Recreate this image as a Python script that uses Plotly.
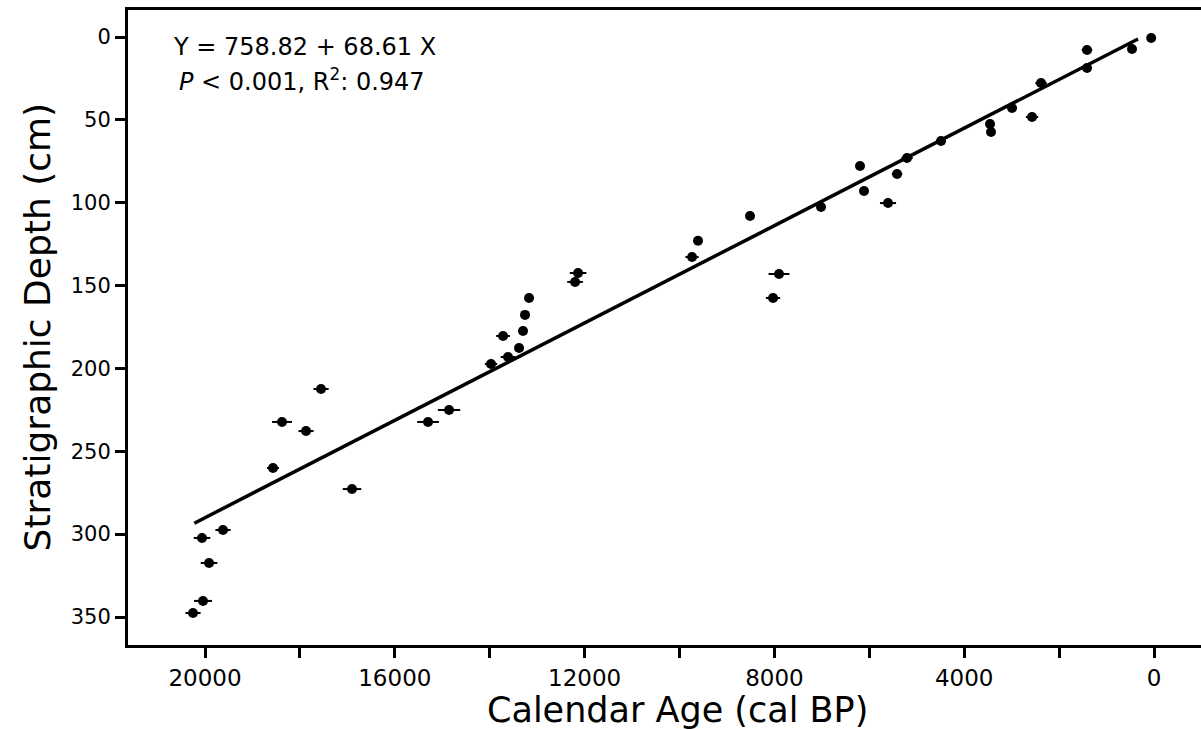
import plotly.graph_objects as go

# Calendar age (cal BP), stratigraphic depth (cm), age error (yr)
age = [60, 464, 1412, 1412, 2381, 2992, 2571, 3456, 3435, 4489,
       5205, 5415, 6196, 6112, 5606, 7018, 8514, 9610, 9736, 7903,
       8029, 12138, 12201, 13171, 13256, 13298, 13719, 13382, 13614, 13972,
       17555, 18377, 17871, 18567, 15300, 14857, 16902, 19621, 20063, 19915,
       20042, 20253]
depth = [0.6, 7.2, 7.8, 18.7, 27.8, 42.8, 48.3, 52.5, 57.3, 62.8,
         73.0, 82.7, 77.8, 92.9, 100.2, 102.6, 108.0, 123.0, 132.8, 143.0,
         157.5, 142.4, 147.8, 157.5, 167.7, 177.4, 180.4, 187.7, 193.1, 197.3,
         212.4, 232.3, 237.8, 260.1, 232.3, 225.1, 272.8, 297.5, 302.3, 317.4,
         340.3, 347.6]
age_err = [60, 60, 110, 60, 120, 60, 130, 60, 60, 100,
           120, 110, 60, 60, 170, 60, 60, 60, 140, 220,
           150, 175, 165, 60, 60, 60, 145, 80, 155, 130,
           160, 210, 160, 125, 230, 235, 195, 160, 175, 175,
           190, 160]

# Regression line end points
fit_age = [20225, 337]
fit_depth = [293.4, 1.2]

x_ticks = [20000, 16000, 12000, 8000, 4000, 0]
x_tick_labels = ["20000", "16000", "12000", "8000", "4000", "0"]
x_minor_ticks = [18000, 14000, 10000, 6000, 2000]
y_ticks = [0, 50, 100, 150, 200, 250, 300, 350]

x_title = "Calendar Age (cal BP)"
y_title = "Stratigraphic Depth (cm)"
eq_line1 = "Y = 758.82 + 68.61 X"
eq_line2 = "<i>P</i> &lt; 0.001, R<sup>2</sup>: 0.947"

FONT = "DejaVu Sans"

fig = go.Figure()

fig.add_trace(go.Scatter(
    x=fit_age, y=fit_depth, mode="lines",
    line=dict(color="black", width=3.5),
    showlegend=False, hoverinfo="skip"))

fig.add_trace(go.Scatter(
    x=age, y=depth, mode="markers",
    marker=dict(color="black", size=10),
    error_x=dict(type="data", array=age_err, visible=True,
                 color="black", thickness=2, width=0),
    showlegend=False))

fig.update_xaxes(
    range=[21623, -990], automargin=False,
    tickmode="array", tickvals=x_ticks, ticktext=x_tick_labels,
    ticks="outside", ticklen=10, tickwidth=3, tickcolor="black",
    minor=dict(tickmode="array", tickvals=x_minor_ticks, ticks="outside",
               ticklen=10, tickwidth=3, tickcolor="black", showgrid=False),
    showline=True, linewidth=3, linecolor="black", mirror=True,
    showgrid=False, zeroline=False,
    tickfont=dict(family=FONT, size=23, color="black"),
)
fig.update_yaxes(
    range=[366.9, -16.3], automargin=False,
    tickmode="array", tickvals=y_ticks,
    ticks="outside", ticklen=10, tickwidth=3, tickcolor="black",
    showline=True, linewidth=3, linecolor="black", mirror=False,
    showgrid=False, zeroline=False,
    tickfont=dict(family=FONT, size=21, color="black"),
)

# axis titles
fig.add_annotation(x=0.512, y=-0.102, xref="paper", yref="paper",
                   text=x_title, showarrow=False,
                   xanchor="center", yanchor="middle",
                   font=dict(family=FONT, size=35, color="black"))
fig.add_annotation(x=-0.0839, y=0.5016, xref="paper", yref="paper",
                   text=y_title, showarrow=False, textangle=-90,
                   xanchor="center", yanchor="middle",
                   font=dict(family=FONT, size=36, color="black"))

# equation text
fig.add_annotation(x=17893, y=6.2, text=eq_line1, showarrow=False,
                   xref="x", yref="y", xanchor="center", yanchor="middle",
                   font=dict(family=FONT, size=24, color="black"))
fig.add_annotation(x=17950, y=26, text=eq_line2, showarrow=False,
                   xref="x", yref="y", xanchor="center", yanchor="middle",
                   font=dict(family=FONT, size=24, color="black"))

fig.update_layout(
    width=1201, height=730,
    margin=dict(l=128, r=0, t=10, b=85),
    paper_bgcolor="white", plot_bgcolor="white",
)

fig.write_html("out.html",
               config={"displayModeBar": False},
               post_script="document.body.style.margin='0';"
                           "document.body.style.overflow='hidden';")
